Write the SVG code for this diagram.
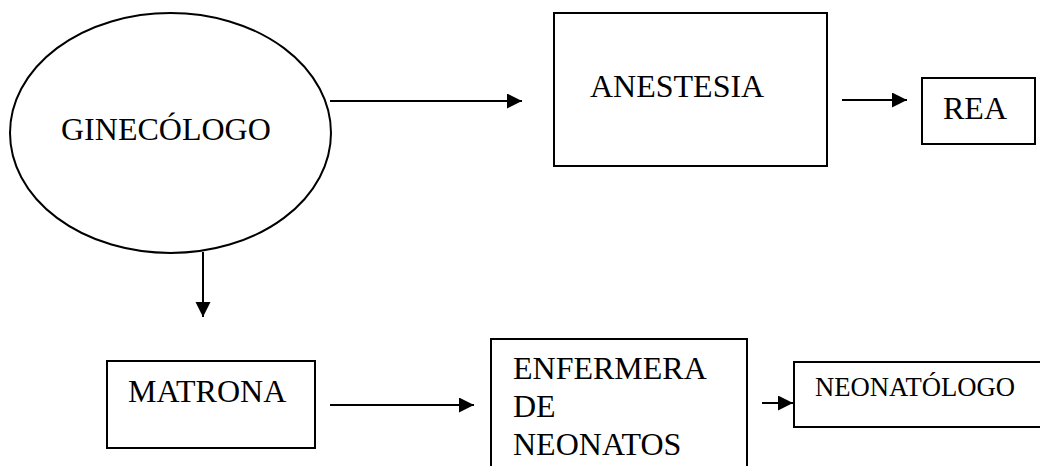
<svg xmlns="http://www.w3.org/2000/svg" width="1040" height="466" viewBox="0 0 1040 466">
  <style>
    .shape { fill: #ffffff; stroke: #000000; stroke-width: 2; }
    .lbl { font-size: 32px; fill: #000000; }
    .small { font-size: 26.7px; }
    .conn { stroke: #000000; stroke-width: 2; fill: none; marker-end: url(#arrow); }
  </style>
  <defs>
    <marker id="arrow" markerUnits="userSpaceOnUse" markerWidth="16" markerHeight="16" refX="15" refY="7.5" orient="auto">
      <path d="M0,0 L15,7.5 L0,15 Z" fill="#000000"/>
    </marker>
  </defs>
  <rect width="1040" height="466" fill="#ffffff"/>

  <g font-family="'Liberation Serif', 'Times New Roman', Times, serif">
  <g id="ginecologo">
    <ellipse class="shape" cx="170.5" cy="133" rx="160.5" ry="120"/>
    <text class="lbl" x="61" y="140">GINECÓLOGO</text>
  </g>
  <g id="anestesia">
    <rect class="shape" x="554" y="13" width="273" height="153"/>
    <text class="lbl" x="590" y="97">ANESTESIA</text>
  </g>
  <g id="rea">
    <rect class="shape" x="922" y="78" width="113" height="66"/>
    <text class="lbl" x="943" y="119">REA</text>
  </g>
  <g id="matrona">
    <rect class="shape" x="107" y="361" width="208" height="87"/>
    <text class="lbl" x="128" y="402">MATRONA</text>
  </g>
  <g id="enfermera">
    <rect class="shape" x="491" y="339" width="256" height="140"/>
    <text class="lbl" x="513" y="379">ENFERMERA</text>
    <text class="lbl" x="513" y="417">DE</text>
    <text class="lbl" x="513" y="455">NEONATOS</text>
  </g>
  <g id="neonatologo">
    <rect class="shape" x="794" y="362" width="260" height="65"/>
    <text class="lbl small" x="815" y="396">NEONATÓLOGO</text>
  </g>
  </g>

  <g id="connectors">
    <line class="conn" x1="330" y1="101" x2="522" y2="101"/>
    <line class="conn" x1="842" y1="100" x2="907" y2="100"/>
    <line class="conn" x1="203" y1="252" x2="203" y2="317"/>
    <line class="conn" x1="330" y1="405" x2="474" y2="405"/>
    <line class="conn" x1="762" y1="403" x2="793" y2="403"/>
  </g>
</svg>
